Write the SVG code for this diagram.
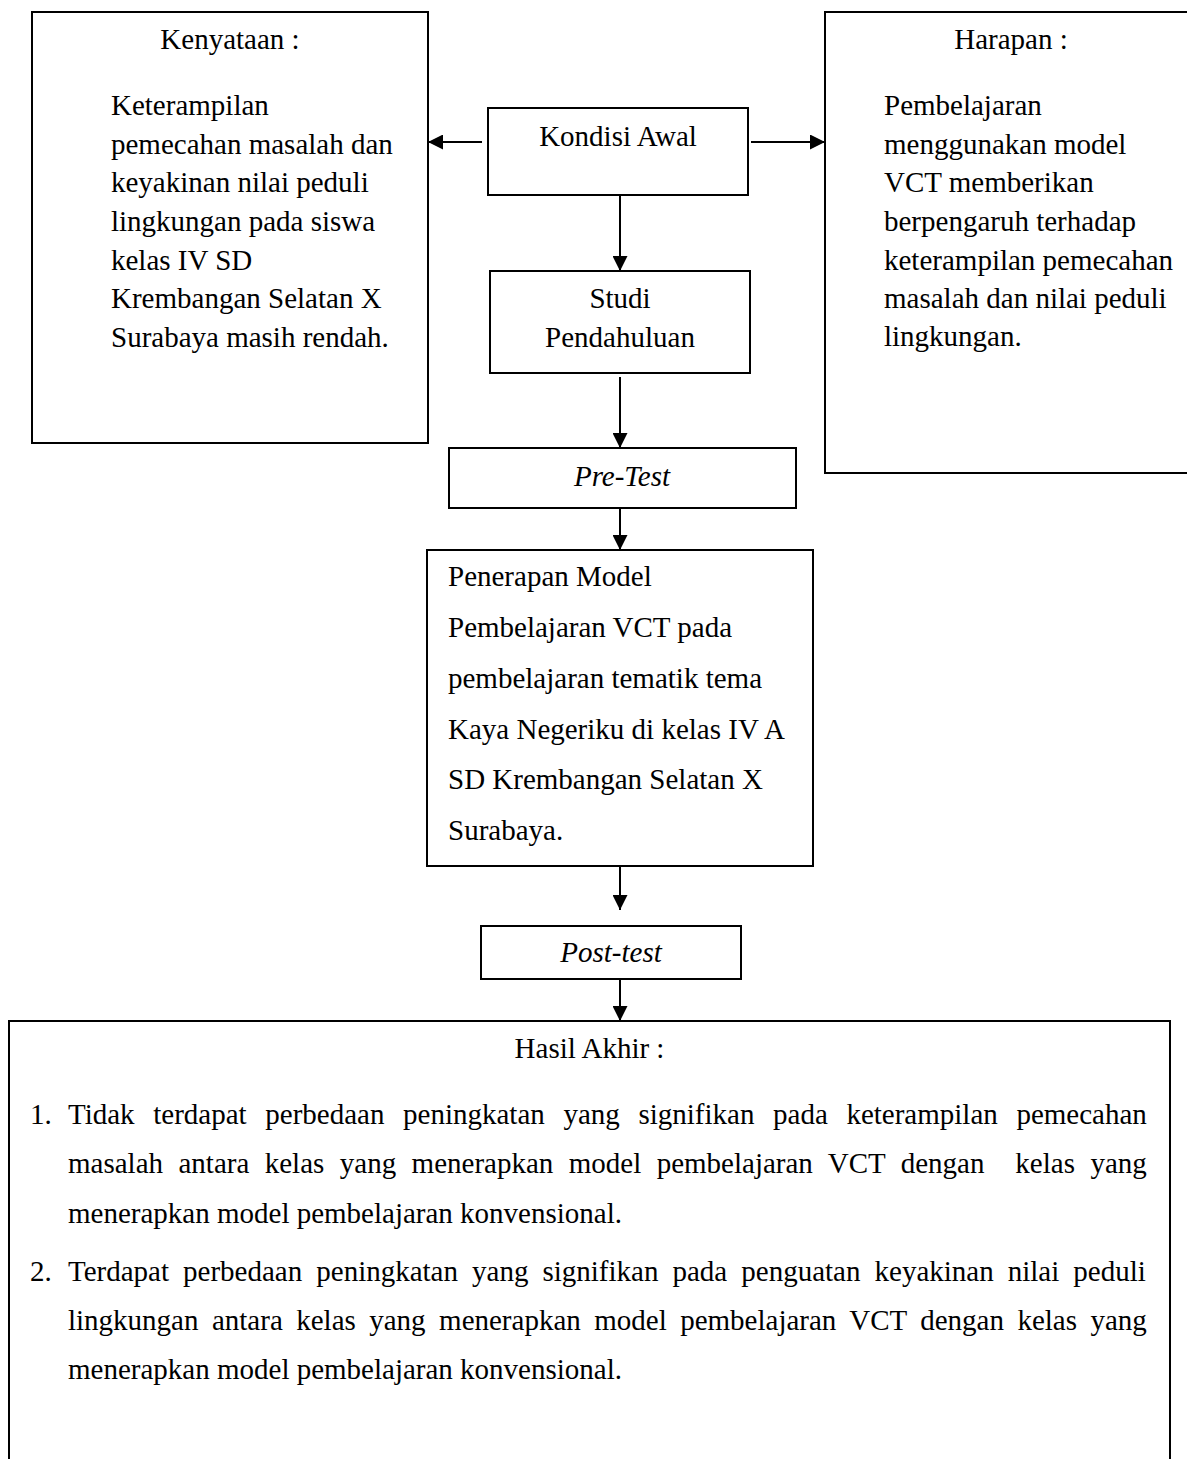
<svg xmlns="http://www.w3.org/2000/svg" width="1187" height="1459" viewBox="0 0 1187 1459">
<defs>
<style>
.box{fill:none;stroke:#000;stroke-width:2}
.t{font-family:"Liberation Serif","Times New Roman",serif;font-size:29px;fill:#000;font-variant-ligatures:none}
.c{text-anchor:middle}
.i{font-style:italic}
.con line{stroke:#000;stroke-width:2;marker-end:url(#ah)}
</style>
<marker id="ah" viewBox="0 0 14 15" refX="15" refY="7.5" markerWidth="14" markerHeight="15" markerUnits="userSpaceOnUse" orient="auto">
<path d="M0,0 L15,7.5 L0,15 Z" fill="#000"/>
</marker>
</defs>
<rect width="1187" height="1459" fill="#fff"/>

<g id="kenyataan">
<rect class="box" x="32" y="12" width="396" height="431"/>
<text class="t c" x="230" y="49">Kenyataan :</text>
<text class="t" x="111" y="115">Keterampilan</text>
<text class="t" x="111" y="154">pemecahan masalah dan</text>
<text class="t" x="111" y="192">keyakinan nilai peduli</text>
<text class="t" x="111" y="231">lingkungan pada siswa</text>
<text class="t" x="111" y="270">kelas IV SD</text>
<text class="t" x="111" y="308">Krembangan Selatan X</text>
<text class="t" x="111" y="347">Surabaya masih rendah.</text>
</g>

<g id="harapan">
<path class="box" d="M1190,12 H825 V473 H1190"/>
<text class="t c" x="1011" y="49">Harapan :</text>
<text class="t" x="884" y="115">Pembelajaran</text>
<text class="t" x="884" y="154">menggunakan model</text>
<text class="t" x="884" y="192">VCT memberikan</text>
<text class="t" x="884" y="231">berpengaruh terhadap</text>
<text class="t" x="884" y="270">keterampilan pemecahan</text>
<text class="t" x="884" y="308">masalah dan nilai peduli</text>
<text class="t" x="884" y="346">lingkungan.</text>
</g>

<g id="kondisi-awal">
<rect class="box" x="488" y="108" width="260" height="87"/>
<text class="t c" x="618" y="146">Kondisi Awal</text>
</g>

<g id="studi-pendahuluan">
<rect class="box" x="490" y="271" width="260" height="102"/>
<text class="t c" x="620" y="308">Studi</text>
<text class="t c" x="620" y="347">Pendahuluan</text>
</g>

<g id="pre-test">
<rect class="box" x="449" y="448" width="347" height="60"/>
<text class="t c i" x="622" y="486">Pre-Test</text>
</g>

<g id="penerapan">
<rect class="box" x="427" y="550" width="386" height="316"/>
<text class="t" x="448" y="586">Penerapan Model</text>
<text class="t" x="448" y="637">Pembelajaran VCT pada</text>
<text class="t" x="448" y="688">pembelajaran tematik tema</text>
<text class="t" x="448" y="739">Kaya Negeriku di kelas IV A</text>
<text class="t" x="448" y="789">SD Krembangan Selatan X</text>
<text class="t" x="448" y="840">Surabaya.</text>
</g>

<g id="post-test">
<rect class="box" x="481" y="926" width="260" height="53"/>
<text class="t c i" x="611" y="962">Post-test</text>
</g>

<g id="hasil-akhir">
<path class="box" d="M9,1462 V1021 H1170 V1462"/>
<text class="t c" x="589.5" y="1058">Hasil Akhir :</text>
<text class="t" x="30" y="1124">1.</text>
<text class="t" x="68" y="1124" word-spacing="11.38">Tidak terdapat perbedaan peningkatan yang signifikan pada keterampilan pemecahan</text>
<text class="t" x="68" y="1173" word-spacing="8.2" style="white-space:pre">masalah antara kelas yang menerapkan model pembelajaran VCT dengan  kelas yang</text>
<text class="t" x="68" y="1223">menerapkan model pembelajaran konvensional.</text>
<text class="t" x="30" y="1281">2.</text>
<text class="t" x="68" y="1281" word-spacing="6.8">Terdapat perbedaan peningkatan yang signifikan pada penguatan keyakinan nilai peduli</text>
<text class="t" x="68" y="1330" word-spacing="6.2">lingkungan antara kelas yang menerapkan model pembelajaran VCT dengan kelas yang</text>
<text class="t" x="68" y="1379">menerapkan model pembelajaran konvensional.</text>
</g>

<g id="connectors" class="con">
<line x1="482" y1="142" x2="428" y2="142"/>
<line x1="751" y1="142" x2="825" y2="142"/>
<line x1="620" y1="195" x2="620" y2="271"/>
<line x1="620" y1="377" x2="620" y2="448"/>
<line x1="620" y1="508" x2="620" y2="550"/>
<line x1="620" y1="866" x2="620" y2="910"/>
<line x1="620" y1="979" x2="620" y2="1021"/>
</g>
</svg>
